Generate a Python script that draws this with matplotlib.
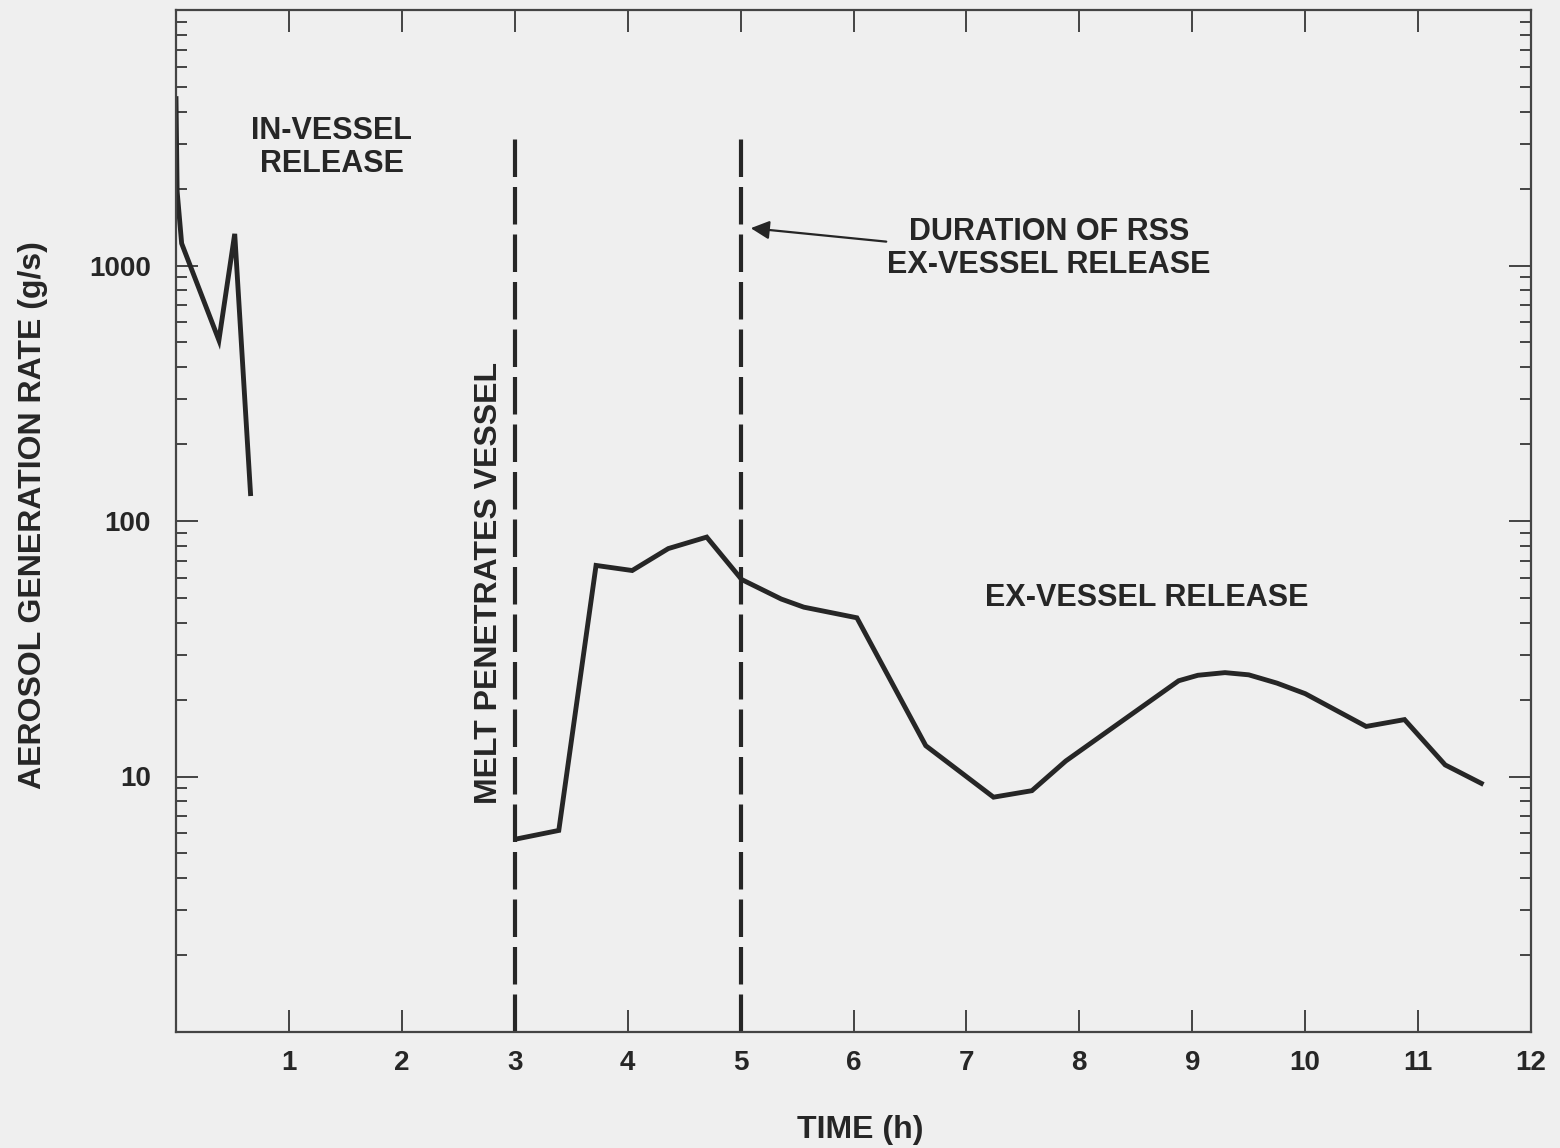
import matplotlib
matplotlib.use("Agg")
import matplotlib.pyplot as plt
from matplotlib.ticker import LogLocator, NullFormatter, FixedLocator

# in-vessel release (time in h, rate in g/s)
in_time = [0.0, 0.01, 0.05, 0.38, 0.52, 0.66]
in_rate = [4500, 1950, 1220, 510, 1330, 128]

# ex-vessel release
ex_time = [3.02, 3.39, 3.72, 4.04, 4.36, 4.70, 5.01, 5.36, 5.56, 6.03, 6.64,
           7.24, 7.58, 7.88, 8.88, 9.05, 9.29, 9.50, 9.75, 10.0, 10.54, 10.88,
           11.24, 11.56]
ex_rate = [5.7, 6.15, 67, 64, 78, 86.5, 59, 49.5, 46, 41.8, 13.2,
           8.3, 8.8, 11.5, 23.7, 24.9, 25.5, 25.0, 23.2, 21.1, 15.7, 16.7,
           11.1, 9.4]

# markers for vessel penetration and end of RSS ex-vessel release
event_times = [3, 5]
event_top = 3200

x_ticks = list(range(1, 13))
y_ticks = [10, 100, 1000]

ink = "#262626"
plt.rcParams["font.family"] = ["Liberation Sans", "DejaVu Sans"]
plt.rcParams["font.weight"] = "bold"

fig = plt.figure(figsize=(15.6, 11.48), dpi=100, facecolor="#efefef")
ax = fig.add_axes([176 / 1560, 1 - 1032 / 1148, 1355 / 1560, 1022 / 1148])
ax.set_facecolor("#efefef")

ax.plot(in_time, in_rate, color=ink, lw=3.5, solid_joinstyle="miter")
ax.plot(ex_time, ex_rate, color=ink, lw=3.5, solid_joinstyle="miter")
for t in event_times:
    ax.plot([t, t], [1, event_top], color=ink, lw=3.0,
            linestyle=(0, (9, 2.4)), solid_capstyle="butt")

ax.set_yscale("log")
ax.set_xlim(0, 12)
ax.set_ylim(1, 10000)

ax.xaxis.set_major_locator(FixedLocator(x_ticks))
ax.set_xticklabels([str(v) for v in x_ticks])
ax.yaxis.set_major_locator(FixedLocator(y_ticks))
ax.set_yticklabels([str(v) for v in y_ticks])
ax.yaxis.set_minor_locator(LogLocator(base=10, subs=range(2, 10)))
ax.yaxis.set_minor_formatter(NullFormatter())

ax.tick_params(axis="both", which="major", direction="in", length=16,
               width=1.4, color="#444444", top=True, right=True,
               labelsize=20, labelcolor=ink)
ax.tick_params(axis="y", which="minor", direction="in", length=8,
               width=1.4, color="#444444", right=True, left=True)
ax.tick_params(axis="x", which="major", pad=13)
ax.tick_params(axis="y", which="major", pad=18)
for sp in ax.spines.values():
    sp.set_linewidth(1.6)
    sp.set_color("#444444")

txt = dict(color=ink, fontsize=22, fontweight="bold")
ax.text(1.38, 2900, "IN-VESSEL\nRELEASE", ha="center", va="center",
        linespacing=1.12, **txt)
ax.text(7.73, 1165, "DURATION OF RSS\nEX-VESSEL RELEASE", ha="center",
        va="center", linespacing=1.12, **txt)
ax.annotate("", xy=(5.09, 1400), xytext=(6.29, 1240),
            arrowprops=dict(arrowstyle="-|>", color=ink, lw=1.6,
                            mutation_scale=28, shrinkA=0, shrinkB=0))
ax.text(8.6, 50, "EX-VESSEL RELEASE", ha="center", va="center", **txt)
ax.text(2.77, 57, "MELT PENETRATES VESSEL", ha="center", va="center",
        rotation=90, color=ink, fontsize=23, fontweight="bold")

fig.text(33 / 1560, 1 - 515 / 1148, "AEROSOL GENERATION RATE (g/s)",
         rotation=90, ha="center", va="center", color=ink, fontsize=23,
         fontweight="bold")
fig.text(860 / 1560, 1 - 1130 / 1148, "TIME (h)", ha="center", va="center",
         color=ink, fontsize=23, fontweight="bold")

fig.savefig("out.png", dpi=100, facecolor=fig.get_facecolor())
